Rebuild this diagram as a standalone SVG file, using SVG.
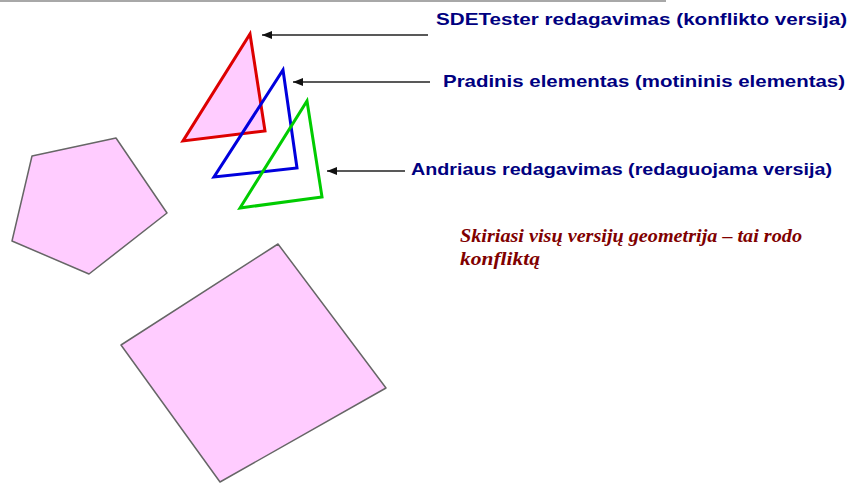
<svg xmlns="http://www.w3.org/2000/svg" width="864" height="483" viewBox="0 0 864 483">
<defs>
<style>
.poly{fill:#ffccff;stroke:#666666;stroke-width:1.5;stroke-linejoin:round}
.tri{stroke-width:3;stroke-linejoin:miter;fill:none}
.lbl{font-family:"Liberation Sans",Arial,sans-serif;font-weight:bold;font-size:17px;fill:#000080}
.note{font-family:"Liberation Serif","Times New Roman",serif;font-style:italic;font-weight:bold;font-size:18px;fill:#800000}
.conn{stroke:#222222;stroke-width:1.3;fill:none;marker-end:url(#ah)}
</style>
<marker id="ah" viewBox="0 0 10 8" refX="10" refY="4" markerWidth="10" markerHeight="8" markerUnits="userSpaceOnUse" orient="auto">
<path d="M0,0 L10,4 L0,8 Z" fill="#111111"/>
</marker>
</defs>
<rect width="864" height="483" fill="#ffffff"/>
<line x1="0" y1="1" x2="666" y2="1" stroke="#a8a8a8" stroke-width="2"/>
<g id="pentagon"><polygon class="poly" points="32,156 116,138 167,213 89,274 12,241"/></g>
<g id="square"><polygon class="poly" points="278,244 386,388 220,482 121,345"/></g>
<g id="red-triangle"><polygon class="tri" points="250,34 265,131 183,141" stroke="#dd0000" style="fill:#ffccff"/></g>
<g id="blue-triangle"><polygon class="tri" points="283,70 297,168 214,177" stroke="#0000dd"/></g>
<g id="green-triangle"><polygon class="tri" points="307,101 322,197 240,208" stroke="#00cc00"/></g>
<g id="connectors">
<line class="conn" x1="428" y1="35" x2="262" y2="35"/>
<line class="conn" x1="430" y1="82" x2="293" y2="82"/>
<line class="conn" x1="405" y1="171" x2="327" y2="171"/>
</g>
<g id="label-sde"><text class="lbl" x="436" y="25" textLength="411" lengthAdjust="spacingAndGlyphs">SDETester redagavimas (konflikto versija)</text></g>
<g id="label-pradinis"><text class="lbl" x="443" y="87" textLength="402" lengthAdjust="spacingAndGlyphs">Pradinis elementas (motininis elementas)</text></g>
<g id="label-andriaus"><text class="lbl" x="411" y="175" textLength="421" lengthAdjust="spacingAndGlyphs">Andriaus redagavimas (redaguojama versija)</text></g>
<g id="note">
<text class="note" x="460" y="242" textLength="342" lengthAdjust="spacingAndGlyphs">Skiriasi visų versijų geometrija – tai rodo</text>
<text class="note" x="460" y="265" textLength="80" lengthAdjust="spacingAndGlyphs">konfliktą</text>
</g>
</svg>
